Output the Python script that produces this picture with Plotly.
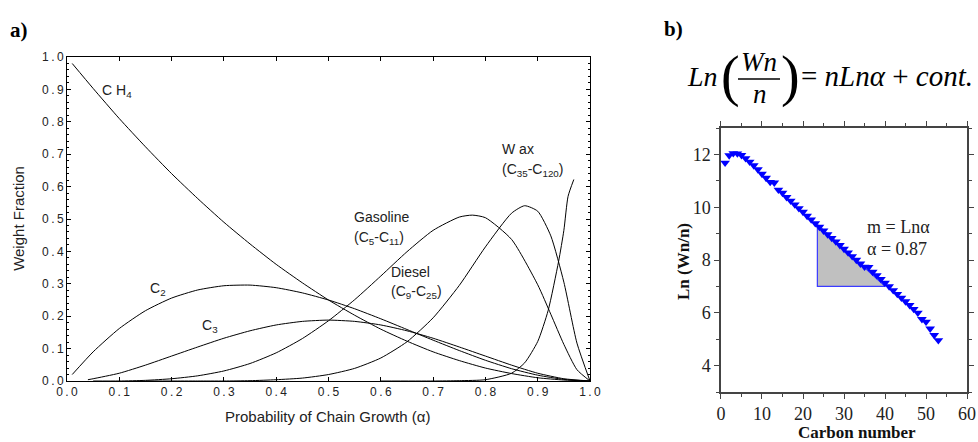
import plotly.graph_objects as go

# ---------------- Panel a) data (read from picture) ----------------
alpha_a = [0.01, 0.05, 0.10, 0.15, 0.20, 0.25, 0.30, 0.35, 0.40, 0.45, 0.50,
           0.55, 0.60, 0.65, 0.70, 0.75, 0.80, 0.85, 0.90, 0.95, 1.00]
ch4 = [0.980, 0.903, 0.810, 0.723, 0.640, 0.563, 0.490, 0.423, 0.360, 0.303, 0.250,
       0.203, 0.160, 0.123, 0.090, 0.063, 0.040, 0.023, 0.010, 0.003, 0.000]
c2 = [0.020, 0.090, 0.162, 0.217, 0.256, 0.281, 0.294, 0.296, 0.288, 0.272, 0.250,
      0.223, 0.192, 0.159, 0.126, 0.094, 0.064, 0.038, 0.018, 0.005, 0.000]
alpha_c3 = [0.04, 0.05, 0.10, 0.15, 0.20, 0.25, 0.30, 0.35, 0.40, 0.45, 0.50,
            0.55, 0.60, 0.65, 0.70, 0.75, 0.80, 0.85, 0.90, 0.95, 1.00]
c3 = [0.004, 0.007, 0.024, 0.049, 0.077, 0.105, 0.132, 0.155, 0.173, 0.184, 0.188,
      0.184, 0.173, 0.155, 0.132, 0.105, 0.077, 0.049, 0.024, 0.007, 0.000]

alpha_gas = [0.05, 0.10, 0.15, 0.20, 0.25, 0.30, 0.35, 0.40, 0.45, 0.50, 0.55, 0.60,
             0.65, 0.70, 0.75, 0.775, 0.80, 0.85, 0.90, 0.925, 0.95, 0.975, 1.00]
gasoline = [0.000, 0.000, 0.002, 0.007, 0.016, 0.031, 0.054, 0.087, 0.131, 0.186, 0.251, 0.324,
            0.399, 0.465, 0.506, 0.512, 0.504, 0.437, 0.297, 0.206, 0.113, 0.035, 0.000]

alpha_dsl = [0.15, 0.20, 0.25, 0.30, 0.35, 0.40, 0.45, 0.50, 0.55, 0.60, 0.65, 0.70,
             0.75, 0.80, 0.85, 0.875, 0.90, 0.925, 0.95, 0.975, 1.00]
diesel = [0.000, 0.000, 0.000, 0.000, 0.001, 0.004, 0.009, 0.020, 0.039, 0.071, 0.121, 0.195,
          0.295, 0.414, 0.518, 0.541, 0.524, 0.448, 0.305, 0.117, 0.000]

alpha_wax = [0.60, 0.70, 0.75, 0.80, 0.85, 0.875, 0.90, 0.92, 0.94, 0.95, 0.958, 0.969]
wax = [0.000, 0.000, 0.001, 0.004, 0.024, 0.056, 0.122, 0.218, 0.370, 0.465, 0.570, 0.622]

xticks_a = [0.0, 0.1, 0.2, 0.3, 0.4, 0.5, 0.6, 0.7, 0.8, 0.9, 1.0]
yticks_a = [0.0, 0.1, 0.2, 0.3, 0.4, 0.5, 0.6, 0.7, 0.8, 0.9, 1.0]
xtick_text_a = ["0.0", "0.1", "0.2", "0.3", "0.4", "0.5", "0.6", "0.7", "0.8", "0.9", "1.0"]
ytick_text_a = ["0.0", "0.1", "0.2", "0.3", "0.4", "0.5", "0.6", "0.7", "0.8", "0.9", "1.0"]

# ---------------- Panel b) data (read from picture) ----------------
carbon_n = list(range(1, 54))
ln_wn_n = [11.68, 11.96, 12.04, 12.03, 11.97, 11.85, 11.72, 11.58, 11.43, 11.26,
           11.11, 10.95, 10.93, 10.66, 10.54, 10.38, 10.24, 10.10, 9.96, 9.82,
           9.67, 9.53, 9.39, 9.25, 9.11, 8.97, 8.83, 8.70, 8.56, 8.42,
           8.28, 8.14, 8.00, 7.86, 7.74, 7.73, 7.55, 7.42, 7.28, 7.13,
           7.00, 6.85, 6.71, 6.57, 6.43, 6.29, 6.14, 6.00, 5.76, 5.66,
           5.40, 5.15, 4.96]
tri_x = [23.5, 23.5, 40.0, 23.5]
tri_y = [9.35, 7.0, 7.0, 9.35]
xticks_b = [0, 10, 20, 30, 40, 50, 60]
yticks_b = [4, 6, 8, 10, 12]

# ---------------- Figure ----------------
fig = go.Figure()

def spaced(s):
    return "\u2009".join(list(s))

line_style = dict(color="black", width=1)
for xs, ys in [(alpha_a, ch4), (alpha_a, c2), (alpha_c3, c3),
               (alpha_gas, gasoline), (alpha_dsl, diesel), (alpha_wax, wax)]:
    fig.add_trace(go.Scatter(x=xs, y=ys, mode="lines", line=dict(shape="spline", smoothing=0.6, **line_style),
                             xaxis="x", yaxis="y", showlegend=False, hoverinfo="skip"))

fig.add_trace(go.Scatter(x=tri_x, y=tri_y, mode="lines", fill="toself", fillcolor="#c0c0c0",
                         line=dict(color="#3b3bff", width=1.2), xaxis="x2", yaxis="y2",
                         showlegend=False, hoverinfo="skip"))
fig.add_trace(go.Scatter(x=carbon_n, y=ln_wn_n, mode="markers",
                         marker=dict(symbol="triangle-down", size=8.5, color="#0000ff", line=dict(width=0)),
                         xaxis="x2", yaxis="y2", showlegend=False))

sans = "Liberation Sans, Arial, sans-serif"
serif = "Liberation Serif, Times New Roman, serif"

fig.update_layout(
    width=978, height=442, autosize=False,
    margin=dict(l=0, r=0, t=0, b=0, autoexpand=False),
    paper_bgcolor="white", plot_bgcolor="white",
    xaxis=dict(domain=[0.0685, 0.6033], range=[0, 1], tickvals=xticks_a,
               ticktext=[spaced(t) for t in xtick_text_a],
               ticks="inside", ticklen=4, tickcolor="black", showline=True, linecolor="black",
               linewidth=1, mirror="ticks", showgrid=False, zeroline=False, automargin=False,
               tickfont=dict(family=sans, size=12, color="#222")),
    yaxis=dict(domain=[0.138, 0.871], range=[0, 1], tickvals=yticks_a,
               ticktext=[spaced(t) for t in ytick_text_a],
               ticks="inside", ticklen=4, tickcolor="black", showline=True, linecolor="black",
               linewidth=1, mirror="ticks", showgrid=False, zeroline=False, automargin=False,
               minor=dict(ticks="inside", ticklen=2, dtick=0.02, tickcolor="black", showgrid=False),
               tickfont=dict(family=sans, size=12, color="#222")),
    xaxis2=dict(domain=[0.7372, 0.9888], range=[0, 60], tickvals=xticks_b, anchor="y2",
                ticks="outside", ticklen=5, tickcolor="#444", showline=True, linecolor="#444",
                linewidth=1.5, mirror="ticks", showgrid=False, zeroline=False, automargin=False,
                minor=dict(ticks="outside", ticklen=3, dtick=5, tickcolor="#444", showgrid=False),
                tickfont=dict(family=serif, size=18, color="#222")),
    yaxis2=dict(domain=[0.1131, 0.7104], range=[3, 13], tickvals=yticks_b, anchor="x2",
                ticks="outside", ticklen=5, tickcolor="#444", showline=True, linecolor="#444",
                linewidth=1.5, mirror="ticks", showgrid=False, zeroline=False, automargin=False,
                minor=dict(ticks="outside", ticklen=3, dtick=1, tickcolor="#444", showgrid=False),
                tickfont=dict(family=serif, size=18, color="#222")),
)

ann = []
def A(text, x, y, size, family=sans, xanchor="left", yanchor="middle", color="#222", angle=0,
      xref="x", yref="y"):
    ann.append(dict(text=text, x=x, y=y, xref=xref, yref=yref, showarrow=False,
                    xanchor=xanchor, yanchor=yanchor, textangle=angle,
                    font=dict(family=family, size=size, color=color)))

# curve labels (panel a)
A("C H<sub>4</sub>", 0.063, 0.895, 14)
A("C<sub>2</sub>", 0.155, 0.285, 14)
A("C<sub>3</sub>", 0.255, 0.17, 14)
A("Gasoline", 0.545, 0.505, 14)
A("(C<sub>5</sub>-C<sub>11</sub>)", 0.545, 0.44, 14)
A("Diesel", 0.615, 0.335, 14)
A("(C<sub>9</sub>-C<sub>25</sub>)", 0.615, 0.275, 14)
A("W ax", 0.828, 0.715, 14)
A("(C<sub>35</sub>-C<sub>120</sub>)", 0.828, 0.65, 14)

# axis titles panel a
A("Probability of Chain Growth (α)", 0.335, 0.057, 15, xanchor="center", xref="paper", yref="paper")
A("Weight Fraction", 0.0195, 0.505, 15, xanchor="center", angle=-90, xref="paper", yref="paper")

# panel b annotations
A("m = Lnα", 865 / 978, 1 - 227 / 442, 18, family=serif, xref="paper", yref="paper")
A("α = 0.87", 865 / 978, 1 - 249 / 442, 18, family=serif, xref="paper", yref="paper")
A("<b>Carbon number</b>", 857 / 978, 1 - 432 / 442, 17, family=serif, xanchor="center", xref="paper", yref="paper", color="#111")
A("<b>Ln (Wn/n)</b>", 683 / 978, 1 - 262 / 442, 17, family=serif, xanchor="center", angle=-90, xref="paper", yref="paper", color="#111")

# panel labels
A("<b>a)</b>", 8 / 978, 1 - 30 / 442, 21, family=serif, xref="paper", yref="paper", color="black")
A("<b>b)</b>", 662 / 978, 1 - 29 / 442, 21, family=serif, xref="paper", yref="paper", color="black")

# equation
A("<i>Ln</i>", 685 / 978, 1 - 76 / 442, 28, family=serif, xref="paper", yref="paper", color="black")
A("(", 719 / 978, 1 - 76 / 442, 56, family=serif, xref="paper", yref="paper", color="black")
A("<i>Wn</i>", 759 / 978, 1 - 62 / 442, 27, family=serif, xanchor="center", xref="paper", yref="paper", color="black")
A("<i>n</i>", 760 / 978, 1 - 94 / 442, 27, family=serif, xanchor="center", xref="paper", yref="paper", color="black")
A(")", 779 / 978, 1 - 76 / 442, 56, family=serif, xref="paper", yref="paper", color="black")
A("= <i>nLnα</i> + <i>cont.</i>", 799 / 978, 1 - 76 / 442, 29, family=serif, xref="paper", yref="paper", color="black")

fig.update_layout(annotations=ann)
fig.add_shape(type="line", xref="paper", yref="paper", x0=738 / 978, x1=780 / 978,
              y0=1 - 79 / 442, y1=1 - 79 / 442, line=dict(color="black", width=1.5))

fig.write_html("out.html", config={"displayModeBar": False},
               post_script="document.body.style.margin='0px';document.body.style.overflow='hidden';")
